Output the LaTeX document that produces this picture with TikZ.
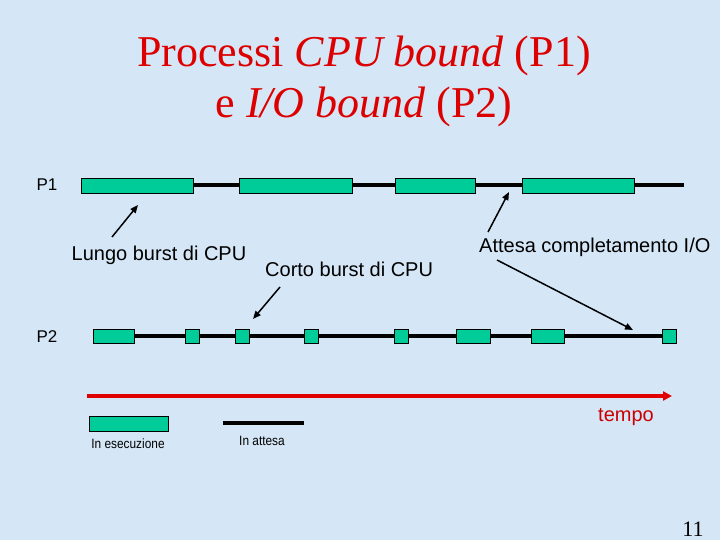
\documentclass[tikz,border=0pt]{standalone}
\usepackage{fontspec}
\setmainfont{Liberation Serif}
\setsansfont{Liberation Sans}
\usetikzlibrary{arrows.meta}
\definecolor{bgblue}{HTML}{D5E6F6}
\definecolor{runcol}{HTML}{00CC99}
\definecolor{titlered}{HTML}{DD0000}
\definecolor{tempored}{HTML}{CC0000}
\definecolor{axisred}{HTML}{E00000}
\tikzset{
  runbox/.style={draw=black, line width=0.8pt, fill=runcol, inner sep=0pt},
  waitline/.style={line width=4pt, black},
  lbl/.style={font=\sffamily\fontsize{20}{24}\selectfont, inner sep=0pt},
  plbl/.style={font=\sffamily\fontsize{17}{20}\selectfont, inner sep=0pt},
  small/.style={font=\sffamily\fontsize{13.5}{16}\selectfont, inner sep=0pt, xscale=0.88},
  ttl/.style={font=\fontsize{44}{52}\selectfont, text=titlered, inner sep=0pt, anchor=base},
  pointer/.style={line width=1.5pt, -{Triangle[length=8pt,width=6.5pt]}},
}
\newcommand{\runbar}[5]{\node[runbox, minimum width=#3-#2, minimum height=#5] (#1) at ({(#2+#3)/2},#4) {};}
\begin{document}
\begin{tikzpicture}[x=1pt,y=-1pt]
\useasboundingbox (0,0) rectangle (720,540);
\fill[bgblue] (0,0) rectangle (720,540);

% Title
\node[ttl] (title1) at (364,67) {Processi \textit{CPU bound} (P1)};
\node[ttl] (title2) at (364,118) {e \textit{I/O bound} (P2)};

% P1
\node[plbl] (p1) at (47,185) {P1};
\coordinate (p1s) at (81,185);
\coordinate (p1e) at (684,185);
\draw[waitline] (p1s) -- (p1e);
\runbar{a1}{81}{193}{185.5}{15}
\runbar{a2}{239}{352}{185.5}{15}
\runbar{a3}{395}{475}{185.5}{15}
\runbar{a4}{522}{634}{185.5}{15}

% P2
\node[plbl] (p2) at (47,337) {P2};
\coordinate (p2s) at (93,336);
\coordinate (p2e) at (676,336);
\draw[waitline] (p2s) -- (p2e);
\runbar{b1}{93}{134}{336}{14}
\runbar{b2}{185}{199}{336}{14}
\runbar{b3}{235}{249}{336}{14}
\runbar{b4}{304}{318}{336}{14}
\runbar{b5}{394}{408}{336}{14}
\runbar{b6}{456}{490}{336}{14}
\runbar{b7}{531}{564}{336}{14}
\runbar{b8}{662}{676}{336}{14}

% Labels
\node[lbl] (lungo) at (159,255) {Lungo burst di CPU};
\node[lbl, anchor=west] (corto) at (265,269) {Corto burst di CPU};
\node[lbl, anchor=west] (attesa) at (479,247) {Attesa completamento I/O};

% Pointers
\coordinate (lt) at (112,237); \coordinate (lh) at (138,205);
\coordinate (ct) at (280,287); \coordinate (ch) at (253,319);
\coordinate (at1) at (488,232); \coordinate (ah1) at (509,192);
\coordinate (at2) at (497,260); \coordinate (ah2) at (633,330);
\draw[pointer] (lt) -- (lh);
\draw[pointer] (ct) -- (ch);
\draw[pointer] (at1) -- (ah1);
\draw[pointer] (at2) -- (ah2);

% Time axis
\coordinate (ts) at (87,396);
\coordinate (te) at (672,396);
\draw[axisred, line width=4pt, -{Triangle[length=9pt,width=9pt]}] (ts) -- (te);
\node[lbl, text=tempored] (tempo) at (626,417) {tempo};

% Legend
\node[runbox, minimum width=79, minimum height=15] (legrun) at (128.5,423.5) {};
\node[small] (legrunt) at (128,444) {In esecuzione};
\coordinate (lws) at (223,423);
\coordinate (lwe) at (304,423);
\draw[line width=4pt] (lws) -- (lwe);
\node[small] (legwaitt) at (262,441) {In attesa};

% Page number
\node[font=\fontsize{22}{26}\selectfont, inner sep=0pt] (pagenum) at (693,529) {11};
\end{tikzpicture}
\end{document}
